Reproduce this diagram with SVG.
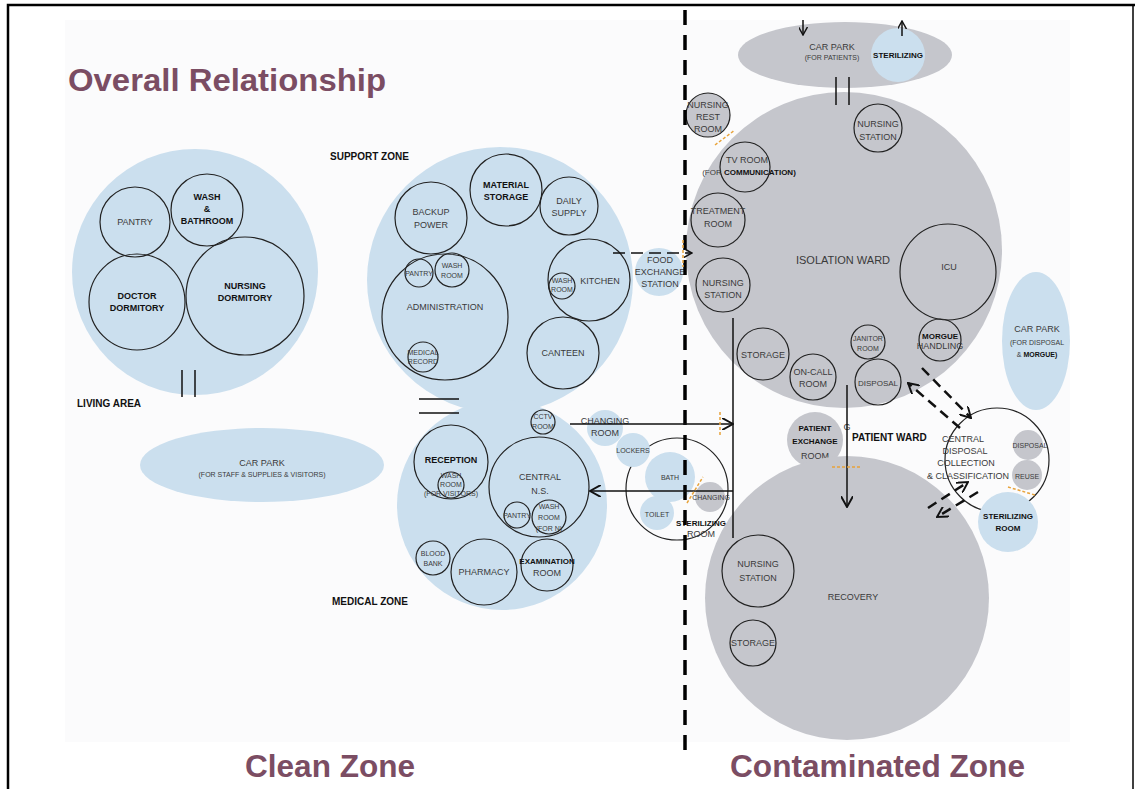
<svg xmlns="http://www.w3.org/2000/svg" width="1135" height="789" viewBox="0 0 1135 789">
<defs>
<style>
.blue{fill:#cbdfee}
.grey{fill:#c5c6cc}
.ring{fill:none;stroke:#222;stroke-width:1.2}
.ringb{fill:#cbdfee;stroke:#222;stroke-width:1.2}
.ringg{fill:#c5c6cc;stroke:#222;stroke-width:1.2}
text{font-family:"Liberation Sans",Arial,sans-serif;text-anchor:middle}
.t{font-size:9px;fill:#3a3a3a}
.s{font-size:7px;fill:#3a3a3a}
.b{font-size:9px;font-weight:bold;fill:#111}
.bs{font-size:8px;font-weight:bold;fill:#111}
.lbl{font-size:10px;font-weight:bold;fill:#111;text-anchor:start}
.title{font-size:31px;font-weight:bold;fill:#7b4d63;text-anchor:start}
.zone{font-size:32px;font-weight:bold;fill:#7b4d63;text-anchor:start}
.ln{stroke:#111;stroke-width:1.5;fill:none}
.dash{stroke:#111;stroke-width:2.5;fill:none;stroke-dasharray:10 6}
.or{stroke:#e8a33a;stroke-width:1.5;stroke-dasharray:3 2;fill:none}
</style>
<marker id="ah" viewBox="0 0 10 10" refX="9" refY="5" markerWidth="9" markerHeight="9" markerUnits="userSpaceOnUse" orient="auto">
<path d="M0,0 L9,5 L0,10" fill="none" stroke="#111" stroke-width="1.6"/>
</marker>
<marker id="ahb" viewBox="0 0 10 10" refX="9" refY="5" markerWidth="12" markerHeight="12" markerUnits="userSpaceOnUse" orient="auto">
<path d="M0,0 L9,5 L0,10" fill="none" stroke="#111" stroke-width="1.6"/>
</marker>
</defs>
<rect width="1135" height="789" fill="#ffffff"/>
<rect x="65" y="20" width="1005" height="722" fill="#fbfbfc"/>
<path d="M8,789 V5 H1135" fill="none" stroke="#000" stroke-width="2.5"/>
<line x1="1133" y1="5" x2="1133" y2="789" stroke="#000" stroke-width="1.5"/>

<text class="title" x="68" y="91" textLength="318" lengthAdjust="spacingAndGlyphs">Overall Relationship</text>

<g id="living-area">
<circle class="blue" cx="195" cy="272" r="123"/>
<circle class="ring" cx="135" cy="222" r="35"/>
<text class="t" x="135" y="225">PANTRY</text>
<circle class="ring" cx="207" cy="210" r="36"/>
<text class="b" x="207" y="200">WASH</text>
<text class="b" x="207" y="212">&amp;</text>
<text class="b" x="207" y="224">BATHROOM</text>
<circle class="ring" cx="137" cy="302" r="48"/>
<text class="b" x="137" y="299">DOCTOR</text>
<text class="b" x="137" y="311">DORMITORY</text>
<circle class="ring" cx="245" cy="296" r="59"/>
<text class="b" x="245" y="289">NURSING</text>
<text class="b" x="245" y="301">DORMITORY</text>
<text class="lbl" x="77" y="407">LIVING AREA</text>
</g>

<g id="car-park-staff">
<ellipse class="blue" cx="262" cy="465" rx="122" ry="37"/>
<text class="t" x="262" y="466">CAR PARK</text>
<text class="s" x="262" y="477">(FOR STAFF &amp; SUPPLIES &amp; VISITORS)</text>
</g>

<g id="support-zone">
<circle class="blue" cx="500" cy="280" r="133"/>
<circle class="ring" cx="506" cy="190" r="36"/>
<text class="b" x="506" y="188">MATERIAL</text>
<text class="b" x="506" y="200">STORAGE</text>
<circle class="ring" cx="569" cy="206" r="29"/>
<text class="t" x="569" y="204">DAILY</text>
<text class="t" x="569" y="216">SUPPLY</text>
<circle class="ring" cx="431" cy="218" r="36"/>
<text class="t" x="431" y="215">BACKUP</text>
<text class="t" x="431" y="228">POWER</text>
<circle class="ring" cx="445" cy="317" r="63"/>
<circle class="ring" cx="419" cy="273" r="14"/>
<text class="s" x="419" y="276">PANTRY</text>
<circle class="ring" cx="452" cy="270" r="17"/>
<text class="s" x="452" y="268">WASH</text>
<text class="s" x="452" y="278">ROOM</text>
<text class="t" x="445" y="310">ADMINISTRATION</text>
<circle class="ring" cx="423" cy="357" r="15"/>
<text class="s" x="423" y="355">MEDICAL</text>
<text class="s" x="423" y="364">RECORD</text>
<circle class="ring" cx="589" cy="280" r="41"/>
<text class="t" x="600" y="284">KITCHEN</text>
<circle class="ring" cx="562" cy="286" r="13"/>
<text class="s" x="562" y="283">WASH</text>
<text class="s" x="562" y="292">ROOM</text>
<circle class="ring" cx="563" cy="353" r="36"/>
<text class="t" x="563" y="356">CANTEEN</text>
<text class="lbl" x="330" y="160">SUPPORT ZONE</text>
</g>

<g id="medical-zone">
<circle class="blue" cx="502" cy="505" r="105"/>
<circle class="ring" cx="543" cy="422" r="12"/>
<text class="s" x="543" y="419">CCTV</text>
<text class="s" x="543" y="429">ROOM</text>
<circle class="ring" cx="451" cy="462" r="37"/>
<text class="b" x="451" y="463">RECEPTION</text>
<circle class="ring" cx="451" cy="485" r="13"/>
<text class="s" x="451" y="478">WASH</text>
<text class="s" x="451" y="487">ROOM</text>
<text class="s" x="451" y="496">(FOR VISITORS)</text>
<circle class="ring" cx="539" cy="487" r="50"/>
<text class="t" x="540" y="480">CENTRAL</text>
<text class="t" x="540" y="494">N.S.</text>
<circle class="ring" cx="517" cy="515" r="13"/>
<text class="s" x="517" y="518">PANTRY</text>
<circle class="ring" cx="549" cy="517" r="17"/>
<text class="s" x="549" y="509">WASH</text>
<text class="s" x="549" y="520">ROOM</text>
<text class="s" x="549" y="531">(FOR N)</text>
<circle class="ring" cx="433" cy="558" r="17"/>
<text class="s" x="433" y="556">BLOOD</text>
<text class="s" x="433" y="566">BANK</text>
<circle class="ring" cx="484" cy="572" r="33"/>
<text class="t" x="484" y="575">PHARMACY</text>
<circle class="ring" cx="547" cy="565" r="26"/>
<text class="bs" x="547" y="564">EXAMINATION</text>
<text class="t" x="547" y="576">ROOM</text>
<text class="lbl" x="332" y="605">MEDICAL ZONE</text>
</g>

<g id="food-exchange">
<circle class="blue" cx="659" cy="272" r="24"/>
<text class="t" x="660" y="263">FOOD</text>
<text class="t" x="660" y="275">EXCHANGE</text>
<text class="t" x="660" y="287">STATION</text>
</g>

<g id="changing-area">
<circle class="ring" cx="677" cy="489" r="51"/>
<circle class="blue" cx="605" cy="428" r="18"/>
<circle class="blue" cx="633" cy="450" r="17"/>
<circle class="blue" cx="670" cy="477" r="25"/>
<circle class="blue" cx="657" cy="513" r="17"/>
<circle class="grey" cx="710" cy="497" r="15"/>
<text class="t" x="605" y="424">CHANGING</text>
<text class="t" x="605" y="436">ROOM</text>
<text class="s" x="633" y="453">LOCKERS</text>
<text class="s" x="670" y="480">BATH</text>
<text class="s" x="657" y="517">TOILET</text>
<text class="s" x="711" y="500">CHANGING</text>
<text class="bs" x="701" y="526">STERILIZING</text>
<text class="t" x="701" y="537">ROOM</text>
</g>

<g id="car-park-patients">
<ellipse class="grey" cx="845" cy="55" rx="107" ry="33"/>
<circle class="blue" cx="898" cy="55" r="27"/>
<text class="t" x="832" y="50">CAR PARK</text>
<text class="s" x="832" y="60">(FOR PATIENTS)</text>
<text class="bs" x="898" y="58">STERILIZING</text>
</g>

<g id="isolation-ward">
<circle class="grey" cx="844" cy="250" r="158"/>
<circle class="ringg" cx="708" cy="115" r="22"/>
<text class="t" x="708" y="108">NURSING</text>
<text class="t" x="708" y="120">REST</text>
<text class="t" x="708" y="132">ROOM</text>
<circle class="ring" cx="745" cy="167" r="25"/>
<text class="t" x="747" y="163">TV ROOM</text>
<text class="s" x="749" y="175" style="font-size:8px">(FOR <tspan style="font-weight:bold;fill:#111">COMMUNICATION)</tspan></text>
<circle class="ring" cx="878" cy="128" r="24"/>
<text class="t" x="878" y="127">NURSING</text>
<text class="t" x="878" y="140">STATION</text>
<circle class="ring" cx="718" cy="220" r="27"/>
<text class="t" x="718" y="214">TREATMENT</text>
<text class="t" x="718" y="227">ROOM</text>
<circle class="ring" cx="723" cy="285" r="27"/>
<text class="t" x="723" y="286">NURSING</text>
<text class="t" x="723" y="298">STATION</text>
<text class="t" x="843" y="264" style="font-size:11px">ISOLATION WARD</text>
<circle class="ring" cx="948" cy="272" r="48"/>
<text class="t" x="949" y="270">ICU</text>
<circle class="ring" cx="940" cy="340" r="21"/>
<text class="bs" x="940" y="339">MORGUE</text>
<text class="t" x="940" y="349">HANDLING</text>
<circle class="ring" cx="763" cy="354" r="26"/>
<text class="t" x="763" y="358">STORAGE</text>
<circle class="ring" cx="813" cy="377" r="23"/>
<text class="t" x="813" y="375">ON-CALL</text>
<text class="t" x="813" y="387">ROOM</text>
<circle class="ring" cx="868" cy="342" r="17"/>
<text class="s" x="868" y="341">JANITOR</text>
<text class="s" x="868" y="351">ROOM</text>
<circle class="ring" cx="878" cy="382" r="23"/>
<text class="s" x="878" y="386" style="font-size:8px">DISPOSAL</text>
</g>

<g id="car-park-disposal">
<ellipse class="blue" cx="1036" cy="341" rx="34" ry="69"/>
<text class="t" x="1037" y="332">CAR PARK</text>
<text class="s" x="1037" y="345">(FOR DISPOSAL</text>
<text class="s" x="1037" y="357">&amp; <tspan style="font-weight:bold;fill:#111">MORGUE)</tspan></text>
</g>

<g id="patient-exchange">
<circle class="grey" cx="815" cy="440" r="28"/>
<text class="bs" x="815" y="431">PATIENT</text>
<text class="bs" x="815" y="444">EXCHANGE</text>
<text class="t" x="815" y="459">ROOM</text>
<text class="t" x="847" y="430">G</text>
<text class="lbl" x="852" y="441">PATIENT WARD</text>
</g>

<g id="central-disposal">
<circle class="ring" cx="997" cy="460" r="52"/>
<circle class="grey" cx="1028" cy="445" r="15"/>
<circle class="grey" cx="1027" cy="475" r="15"/>
<text class="s" x="1030" y="448">DISPOSAL</text>
<text class="s" x="1027" y="479">REUSE</text>
<text class="t" x="963" y="442">CENTRAL</text>
<text class="t" x="965" y="454">DISPOSAL</text>
<text class="t" x="966" y="466">COLLECTION</text>
<text class="t" x="968" y="479">&amp; CLASSIFICATION</text>
</g>

<g id="sterilizing-room">
<circle class="blue" cx="1008" cy="522" r="30"/>
<text class="bs" x="1008" y="519">STERILIZING</text>
<text class="bs" x="1008" y="531">ROOM</text>
</g>

<g id="recovery">
<circle class="grey" cx="847" cy="598" r="142"/>
<circle class="ring" cx="758" cy="571" r="36"/>
<text class="t" x="758" y="567">NURSING</text>
<text class="t" x="758" y="581">STATION</text>
<circle class="ring" cx="753" cy="643" r="23"/>
<text class="t" x="753" y="646">STORAGE</text>
<text class="t" x="853" y="600">RECOVERY</text>
</g>

<g id="connectors">
<line x1="685" y1="10" x2="685" y2="752" stroke="#000" stroke-width="3.5" stroke-dasharray="15 10"/>
<line class="ln" x1="182" y1="370" x2="182" y2="397"/>
<line class="ln" x1="195" y1="370" x2="195" y2="397"/>
<line class="ln" x1="419" y1="399" x2="459" y2="399"/>
<line class="ln" x1="419" y1="413" x2="459" y2="413"/>
<line class="ln" x1="836" y1="77" x2="836" y2="105"/>
<line class="ln" x1="849" y1="77" x2="849" y2="105"/>
<line class="ln" x1="803" y1="20" x2="803" y2="35" marker-end="url(#ah)"/>
<line class="ln" x1="902" y1="36" x2="902" y2="21" marker-end="url(#ah)"/>
<line x1="613" y1="253" x2="692" y2="253" stroke="#111" stroke-width="1.5" stroke-dasharray="12 6" marker-end="url(#ah)"/>
<line class="ln" x1="570" y1="424" x2="733" y2="424" marker-end="url(#ahb)"/>
<line class="ln" x1="733" y1="318" x2="733" y2="538"/>
<line class="ln" x1="733" y1="491" x2="590" y2="491" marker-end="url(#ahb)"/>
<line class="ln" x1="847" y1="385" x2="847" y2="507" marker-end="url(#ahb)"/>
<line class="dash" x1="960" y1="428" x2="908" y2="383" marker-end="url(#ahb)"/>
<line class="dash" x1="922" y1="368" x2="971" y2="418" marker-end="url(#ahb)"/>
<line class="dash" x1="928" y1="508" x2="968" y2="482" marker-end="url(#ahb)"/>
<line class="dash" x1="978" y1="492" x2="937" y2="517" marker-end="url(#ahb)"/>
<line class="or" x1="683" y1="240" x2="683" y2="267"/>
<line class="or" x1="720" y1="412" x2="720" y2="437"/>
<line class="or" x1="687" y1="503" x2="703" y2="477"/>
<line class="or" x1="715" y1="145" x2="735" y2="130"/>
<line class="or" x1="832" y1="467" x2="860" y2="467"/>
<line class="or" x1="1008" y1="487" x2="1035" y2="495"/>
</g>

<text class="zone" x="245" y="777" textLength="170" lengthAdjust="spacingAndGlyphs">Clean Zone</text>
<text class="zone" x="730" y="777" textLength="295" lengthAdjust="spacingAndGlyphs">Contaminated Zone</text>
</svg>
